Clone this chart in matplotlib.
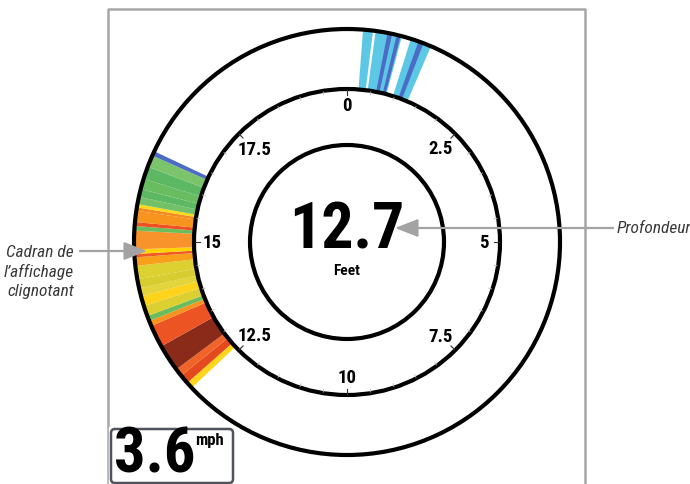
import numpy as np
import matplotlib
matplotlib.use("Agg")
import matplotlib.pyplot as plt
from matplotlib.patches import Wedge, Circle, FancyBboxPatch, Rectangle

# flasher dial: 0..20 ft around the ring, clockwise from the top
DIAL_MAX_FT = 20.0
MAJOR_TICKS = [0, 2.5, 5, 7.5, 10, 12.5, 15, 17.5]
MAJOR_LABELS = ["0", "2.5", "5", "7.5", "10", "12.5", "15", "17.5"]
MINOR_STEP_FT = 0.5

DEPTH_TEXT = "12.7"
DEPTH_UNIT = "Feet"
SPEED_TEXT = "3.6"
SPEED_UNIT = "mph"

# returns near the surface (start ft, end ft, colour)
surface_start = [0.24, 0.43, 0.61, 0.75, 0.97, 1.09]
surface_end = [0.39, 0.83, 0.68, 0.81, 1.29, 1.17]
surface_color = ["#5cc8e6", "#5cc8e6", "#4a6cc4", "#4a6cc4", "#5cc8e6", "#4a6cc4"]

# returns near the bottom, listed from deep to shallow boundaries
bottom_edges = [12.60, 12.70, 12.84, 12.96, 13.37, 13.71, 13.79, 13.87, 14.03,
                14.18, 14.30, 14.44, 14.64, 14.77, 14.82, 14.89, 15.17, 15.24,
                15.30, 15.47, 15.52, 15.57, 15.68, 15.80, 15.96, 16.15, 16.33, 16.40]
bottom_color = ["#ffd51c", "#e44a1d", "#f0642a", "#8a2b19", "#ec5424", "#f7941d",
                "#6cbb5c", "#dccf32", "#fdd31c", "#e2d43a", "#d8cd30", "#dcd130",
                "#f9a01b", "#ee5a24", "#ffd400", "#f8922a", "#6abd5d", "#ef4f23",
                "#f7941d", "#f58a1f", "#fcd91a", "#72c168", "#5db863", "#69bd60",
                "#5db863", "#7cc46b", "#4a6cc4"]

CX, CY = 347, 243
R_OUTER, R_MID, R_INNER = 213, 153, 97


def ft_to_theta(ft):
    # clockwise-from-top angle -> matplotlib wedge angle on a y-down axis
    return ft / DIAL_MAX_FT * 360.0 - 90.0


def dial_xy(ft, r):
    a = np.deg2rad(ft / DIAL_MAX_FT * 360.0)
    return CX + r * np.sin(a), CY - r * np.cos(a)


fig = plt.figure(figsize=(6.9, 4.85), dpi=100)
ax = fig.add_axes([0, 0, 1, 1])
ax.set_xlim(0, 690)
ax.set_ylim(485, 0)
ax.set_aspect("equal")
ax.axis("off")

narrow = ["Roboto Condensed", "DejaVu Sans"]

# screen frame
ax.plot([108, 108, 585, 585], [490, 10, 10, 490], color="#a7a7a7", lw=1.8, zorder=1)

# colour returns
for s, e, c in zip(surface_start, surface_end, surface_color):
    ax.add_patch(Wedge((CX, CY), R_OUTER, ft_to_theta(s), ft_to_theta(e),
                       width=R_OUTER - R_MID, color=c, lw=0, zorder=2))
for s, e, c in zip(bottom_edges[:-1], bottom_edges[1:], bottom_color):
    ax.add_patch(Wedge((CX, CY), R_OUTER, ft_to_theta(s), ft_to_theta(e),
                       width=R_OUTER - R_MID, color=c, lw=0, zorder=2))

for r in (R_OUTER, R_MID, R_INNER):
    ax.add_patch(Circle((CX, CY), r, fill=False, ec="black", lw=3.0, zorder=3))

# ticks
for ft in np.arange(0, DIAL_MAX_FT, MINOR_STEP_FT):
    x0, y0 = dial_xy(ft, R_MID - 1)
    x1, y1 = dial_xy(ft, R_MID - 4)
    ax.plot([x0, x1], [y0, y1], color="#c0c0c0", lw=0.6, zorder=3)
for ft, lab in zip(MAJOR_TICKS, MAJOR_LABELS):
    x0, y0 = dial_xy(ft, R_MID - 1)
    x1, y1 = dial_xy(ft, R_MID - 6)
    ax.plot([x0, x1], [y0, y1], color="#333333", lw=0.8, zorder=3)
    r_lab = R_MID - 14 - 2.0 * len(lab)
    xt, yt = dial_xy(ft, r_lab)
    ax.text(xt, yt, lab, ha="center", va="center", fontsize=13.5, fontweight="bold",
            family=narrow, zorder=4)

# digital depth
ax.text(CX, 231, DEPTH_TEXT, ha="center", va="center", fontsize=46,
        fontweight="bold", family=narrow, zorder=4)
ax.text(CX, 271, DEPTH_UNIT, ha="center", va="center", fontsize=11,
        fontweight="bold", family=narrow, zorder=4)

# speed box
ax.add_patch(Rectangle((109, 428), 126, 60, color="white", zorder=4))
ax.add_patch(FancyBboxPatch((111, 430), 122, 54, boxstyle="round,pad=0,rounding_size=4",
                            fc="white", ec="#4e535e", lw=1.8, zorder=5))
ax.text(114, 456, SPEED_TEXT, ha="left", va="center", fontsize=45,
        fontweight="bold", family=narrow, zorder=6)
ax.text(195, 441, SPEED_UNIT, ha="left", va="center", fontsize=12,
        fontweight="bold", family=narrow, zorder=6)

# callouts
arrow_kw = dict(arrowstyle="-|>,head_length=1.4,head_width=0.55", color="#a3a3a3",
                lw=1.6, shrinkA=0, shrinkB=0)
ax.annotate("", xy=(147, 252), xytext=(80, 252), arrowprops=arrow_kw, zorder=7)
ax.annotate("", xy=(395, 229), xytext=(613, 229), arrowprops=arrow_kw, zorder=7)

ax.text(74, 272, "Cadran de\nl\u2019affichage\nclignotant", ha="right", va="center",
        fontsize=12.5, style="italic", family=narrow, color="#3a3a3a",
        linespacing=1.3, zorder=7)
ax.text(617, 229, "Profondeur", ha="left", va="center", fontsize=12.5,
        style="italic", family=narrow, color="#3a3a3a", zorder=7)

fig.savefig("out.png", dpi=100)
